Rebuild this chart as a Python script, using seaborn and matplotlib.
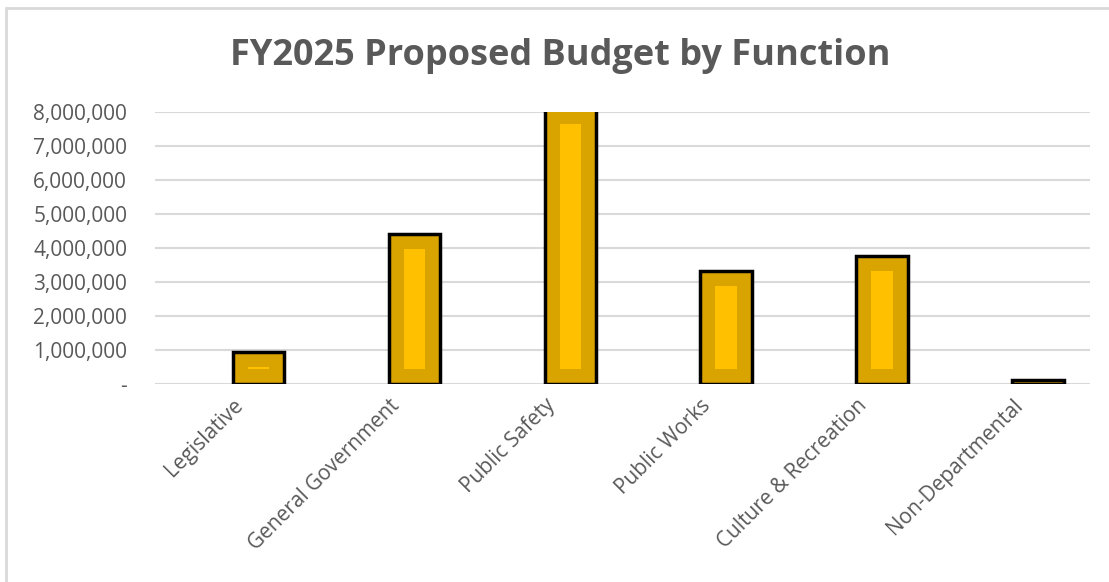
import matplotlib
matplotlib.use("Agg")
import matplotlib.pyplot as plt
import matplotlib.ticker as mticker
from matplotlib.patches import Rectangle
import seaborn as sns
import pandas as pd
import numpy as np

categories = ["Legislative", "General Government", "Public Safety",
              "Public Works", "Culture & Recreation", "Non-Departmental"]
budget = [950000, 4420000, 8100000, 3320000, 3760000, 120000]
title = "FY2025 Proposed Budget by Function"
yticks = [0, 1000000, 2000000, 3000000, 4000000, 5000000, 6000000, 7000000, 8000000]

sns.set_theme(style="white")
plt.rcParams['font.family'] = ['Open Sans', 'DejaVu Sans']

df = pd.DataFrame({
    "Function": categories * 2,
    "Series": ["blank"] * len(categories) + ["FY2025"] * len(categories),
    "Amount": [np.nan] * len(categories) + budget,
})

fig = plt.figure(figsize=(11.09, 5.82), dpi=100)
ax = fig.add_axes([155/1109, 1-384/582, (1090-155)/1109, (384-112)/582])

gray = "#595959"
sns.barplot(data=df, x="Function", y="Amount", hue="Series",
            hue_order=["blank", "FY2025"], palette=["#DAA400", "#DAA400"],
            saturation=1, width=0.66, dodge=True, legend=False,
            edgecolor="black", linewidth=2.5, ax=ax, zorder=3)

ax.set_xlim(-0.5, len(categories) - 0.5)
ax.set_ylim(0, 8000000)
ax.set_yticks(yticks)
ax.yaxis.set_major_formatter(mticker.FuncFormatter(
    lambda v, p: "-" if v == 0 else f"{int(v):,}"))
ax.grid(axis="y", color="#d9d9d9", linewidth=1.5, zorder=0)
ax.set_axisbelow(True)
for s in ax.spines.values():
    s.set_visible(False)
ax.set_xlabel("")
ax.set_ylabel("")
ax.tick_params(axis="y", length=0, pad=20, labelsize=15, labelcolor=gray)
ax.tick_params(axis="x", length=0, pad=8, labelsize=15, labelcolor=gray)
for lbl in ax.get_xticklabels():
    lbl.set_rotation(45)
    lbl.set_ha("right")
    lbl.set_rotation_mode("anchor")

# inner bevel highlight for each bar
fig.canvas.draw()
inv = ax.transData.inverted()
inset = 15
for p in list(ax.patches):
    h = p.get_height()
    if not np.isfinite(h) or h <= 0:
        continue
    x0, y0 = p.get_x(), p.get_y()
    x1, y1 = x0 + p.get_width(), y0 + h
    (dx0, dy0) = ax.transData.transform((x0, y0))
    (dx1, dy1) = ax.transData.transform((x1, y1))
    ix0, iy0 = dx0 + inset, dy0 + inset
    ix1, iy1 = dx1 - inset, dy1 - inset
    if iy1 - iy0 < 1:
        continue
    (a0, b0) = inv.transform((ix0, iy0))
    (a1, b1) = inv.transform((ix1, iy1))
    ax.add_patch(Rectangle((a0, b0), a1 - a0, b1 - b0, facecolor="#FFC000",
                           edgecolor="none", zorder=4))

fig.text(0.505, 1 - 56/582, title, ha="center", va="center",
         fontsize=26, fontweight="bold", color=gray)

fig.patches.append(Rectangle((6/1109, -0.1), 1.2, 1 - 8/582 + 0.1,
                             transform=fig.transFigure, fill=False,
                             edgecolor="#d9d9d9", linewidth=2))

fig.savefig("out.png", dpi=100)
